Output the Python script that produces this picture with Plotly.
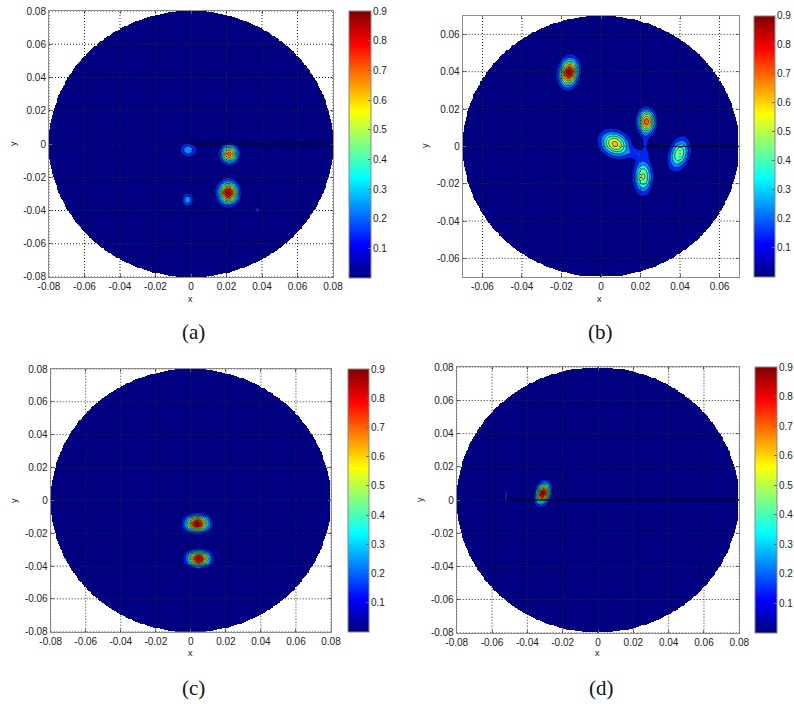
import numpy as np
import plotly.graph_objects as go

# ---------------- data ----------------
# Each panel: peaks of the intensity map (centre x, centre y, peak value, widths, tilt in degrees)
A_CX = [-0.0015, 0.0216, 0.0210, -0.0019, 0.0374]
A_CY = [-0.0036, -0.0060, -0.0293, -0.0335, -0.0397]
A_PEAK = [0.27, 0.75, 0.93, 0.26, 0.115]
A_SX = [0.0032, 0.0031, 0.0035, 0.0023, 0.0024]
A_SY = [0.0029, 0.0035, 0.0043, 0.0028, 0.0024]
A_ANG = [0, 0, 0, 0, 0]

B_CX = [-0.0162, 0.0231, 0.0071, 0.0214, 0.0396, 0.0190, 0.0225]
B_CY = [0.0395, 0.0132, 0.0013, -0.0162, -0.0041, -0.0040, 0.0020]
B_PEAK = [0.93, 0.76, 0.63, 0.52, 0.50, 0.14, 0.12]
B_SX = [0.0030, 0.0028, 0.0050, 0.0030, 0.0032, 0.0040, 0.0012]
B_SY = [0.0047, 0.0042, 0.0040, 0.0058, 0.0055, 0.0018, 0.0030]
B_ANG = [-8, 0, -35, 0, -15, 0, 0]

C_CX = [0.0037, 0.0045]
C_CY = [-0.0140, -0.0353]
C_PEAK = [0.93, 0.93]
C_SX = [0.0043, 0.0042]
C_SY = [0.0032, 0.0030]
C_ANG = [0, 0]

D_CX = [-0.0311, -0.0521]
D_CY = [0.0040, 0.0024]
D_PEAK = [0.94, 0.112]
D_SX = [0.0024, 0.0015]
D_SY = [0.0041, 0.0100]
D_ANG = [-15, 0]

RADIUS = [0.08, 0.07, 0.08, 0.08]
SEAM_START = [0.0, 0.022, None, -0.052]
CAPTIONS = ["(a)", "(b)", "(c)", "(d)"]

TICKS_8 = [-0.08, -0.06, -0.04, -0.02, 0, 0.02, 0.04, 0.06, 0.08]
TICKTEXT_8 = ["-0.08", "-0.06", "-0.04", "-0.02", "0", "0.02", "0.04", "0.06", "0.08"]
TICKS_6 = [-0.06, -0.04, -0.02, 0, 0.02, 0.04, 0.06]
TICKTEXT_6 = ["-0.06", "-0.04", "-0.02", "0", "0.02", "0.04", "0.06"]
CB_TICKS = [0.1, 0.2, 0.3, 0.4, 0.5, 0.6, 0.7, 0.8, 0.9]
CB_TEXT = ["0.1", "0.2", "0.3", "0.4", "0.5", "0.6", "0.7", "0.8", "0.9"]
CB_RANGE = [0.0, 0.9]
LEVELS = [0.1, 0.9, 0.1]  # start, end, step of contour levels

# ---------------- layout geometry (pixels in the 794x704 page) ----------------
OFF = 0                      # body margin removed by the post script below
W, H = 794 - OFF, 704 - OFF
AX_PX = [(49, 333, 11, 277), (462.7, 739.3, 15.7, 277), (50.7, 331, 369, 631.7), (456.7, 739.3, 367.3, 632.7)]
CB_PX = [(349, 22, 11, 278), (754, 21, 15.7, 277), (347.7, 21, 369, 632), (755, 21.5, 367, 633)]
XLAB_PX = [(190, 299), (599, 299), (190, 653), (597, 653)]
YLAB_PX = [(13, 144), (425, 146), (14, 501), (420, 500)]
CAP_PX = [(193, 332), (600, 332), (193, 688), (601, 688)]


def px(xp):
    return (xp - OFF) / W


def py(yp):
    return 1 - (yp - OFF) / H


def jet(t):
    t = min(max(t, 0.0), 1.0)
    r = min(max(1.5 - abs(4 * t - 3), 0), 1)
    g = min(max(1.5 - abs(4 * t - 2), 0), 1)
    b = min(max(1.5 - abs(4 * t - 1), 0), 1)
    return "rgb(%d,%d,%d)" % (round(r * 255), round(g * 255), round(b * 255))


# banded colorscale (filled contour look), bands of 0.1 over [0, 1]
BAND = []
for k in range(10):
    c = jet(0) if k == 0 else jet((k + 0.5) / 9.5)
    BAND.append([k / 10, c])
    BAND.append([(k + 1) / 10, c])

JET = [[s, jet(s)] for s in np.linspace(0, 1, 65)]


def field(X, Y, cx, cy, pk, sx, sy, ang):
    Z = np.zeros_like(X)
    for x0, y0, a, s1, s2, th in zip(cx, cy, pk, sx, sy, ang):
        t = np.deg2rad(th)
        dx, dy = X - x0, Y - y0
        u = dx * np.cos(t) + dy * np.sin(t)
        v = -dx * np.sin(t) + dy * np.cos(t)
        Z += a * np.exp(-0.5 * (u / s1) ** 2 - 0.5 * (v / s2) ** 2)
    return Z


PANELS = [
    (A_CX, A_CY, A_PEAK, A_SX, A_SY, A_ANG),
    (B_CX, B_CY, B_PEAK, B_SX, B_SY, B_ANG),
    (C_CX, C_CY, C_PEAK, C_SX, C_SY, C_ANG),
    (D_CX, D_CY, D_PEAK, D_SX, D_SY, D_ANG),
]

fig = go.Figure()
shapes = []
annotations = []
FONT = "Liberation Sans, Arial, sans-serif"
GRID_COL = "rgb(40,40,40)"

for i, (pars, R) in enumerate(zip(PANELS, RADIUS)):
    n = i + 1
    xa = "x" if n == 1 else "x%d" % n
    ya = "y" if n == 1 else "y%d" % n

    # fine grid for filled bands
    g = np.linspace(-R, R, 321)
    X, Y = np.meshgrid(g, g)
    Z = field(X, Y, *pars)
    Zm = np.where(X ** 2 + Y ** 2 <= R ** 2, Z, np.nan).astype(np.float32)
    fig.add_trace(go.Heatmap(x=g, y=g, z=Zm, colorscale=BAND, zmin=0, zmax=1.0,
                             showscale=False, zsmooth=False, hoverinfo="skip",
                             xaxis=xa, yaxis=ya))
    # contour lines
    g2 = np.linspace(-R, R, 241)
    X2, Y2 = np.meshgrid(g2, g2)
    Z2 = field(X2, Y2, *pars).astype(np.float32)
    fig.add_trace(go.Contour(x=g2, y=g2, z=Z2,
                             contours=dict(coloring="lines", start=LEVELS[0], end=LEVELS[1], size=LEVELS[2]),
                             colorscale=[[0, "black"], [1, "black"]], line=dict(width=0.6),
                             showscale=False, hoverinfo="skip", xaxis=xa, yaxis=ya))
    # continuous colorbar (invisible marker); its labels are placed as annotations
    cbx, cbw, cbt, cbb = CB_PX[i]
    fig.add_trace(go.Scatter(x=[0], y=[0], mode="markers", hoverinfo="skip", showlegend=False,
                             marker=dict(size=1, opacity=0, color=[0.45], colorscale=JET,
                                         cmin=CB_RANGE[0], cmax=CB_RANGE[1] + 1e-6,
                                         showscale=True,
                                         colorbar=dict(x=px(cbx), xanchor="left", xpad=0, ypad=0,
                                                       y=py((cbt + cbb) / 2), yanchor="middle",
                                                       len=cbb - cbt, lenmode="pixels", thickness=cbw,
                                                       thicknessmode="pixels",
                                                       tickvals=CB_TICKS, showticklabels=False,
                                                       ticks="inside", ticklen=3, tickcolor="#666",
                                                       outlinewidth=1, outlinecolor="#888")),
                             xaxis=xa, yaxis=ya))
    for v, txt in zip(CB_TICKS, CB_TEXT):
        frac = (v - CB_RANGE[0]) / (CB_RANGE[1] - CB_RANGE[0])
        annotations.append(dict(text=txt, x=px(cbx + cbw + 1.0), y=py(cbb - frac * (cbb - cbt)),
                                xref="paper", yref="paper", showarrow=False, xanchor="left", yanchor="middle",
                                borderpad=0, font=dict(family=FONT, size=10, color="#222")))

    x0p, x1p, y0p, y1p = AX_PX[i]
    ticks = TICKS_8 if R > 0.075 else TICKS_6
    ttext = TICKTEXT_8 if R > 0.075 else TICKTEXT_6
    rng = [-R * 1.00005, R * 1.00005]
    axcommon = dict(range=rng, tickvals=ticks, ticktext=ttext, ticks="inside", ticklen=3,
                    tickcolor="#777", showline=True, linecolor="#8c8c8c", linewidth=1, mirror="ticks",
                    showgrid=False, zeroline=False, tickfont=dict(family=FONT, size=10, color="#222"))
    fig.layout["xaxis" if n == 1 else "xaxis%d" % n] = dict(axcommon, domain=[px(x0p), px(x1p)], anchor=ya)
    fig.layout["yaxis" if n == 1 else "yaxis%d" % n] = dict(axcommon, domain=[py(y1p), py(y0p)], anchor=xa)

    # dotted grid drawn on top of the map
    for t in ticks:
        shapes.append(dict(type="line", xref=xa, yref=ya, x0=t, x1=t, y0=-R, y1=R, layer="above",
                           line=dict(color=GRID_COL, width=1, dash="1px,2px")))
        shapes.append(dict(type="line", xref=xa, yref=ya, x0=-R, x1=R, y0=t, y1=t, layer="above",
                           line=dict(color=GRID_COL, width=1, dash="1px,2px")))
    if SEAM_START[i] is not None:
        shapes.append(dict(type="line", xref=xa, yref=ya, x0=SEAM_START[i], x1=R, y0=0, y1=0, layer="above",
                           line=dict(color="black", width=1)))

    lx, ly = XLAB_PX[i]
    annotations.append(dict(text="x", x=px(lx), y=py(ly), xref="paper", yref="paper", showarrow=False,
                            xanchor="center", yanchor="middle", font=dict(family=FONT, size=9, color="#222")))
    lx, ly = YLAB_PX[i]
    annotations.append(dict(text="y", x=px(lx), y=py(ly), xref="paper", yref="paper", showarrow=False,
                            textangle=-90, xanchor="center", yanchor="middle",
                            font=dict(family=FONT, size=9, color="#222")))
    cx, cy = CAP_PX[i]
    annotations.append(dict(text=CAPTIONS[i], x=px(cx), y=py(cy), xref="paper", yref="paper",
                            showarrow=False, xanchor="center", yanchor="middle",
                            font=dict(family="Liberation Serif, DejaVu Serif, serif", size=21, color="#111")))

fig.update_layout(width=W, height=H, autosize=False,
                  margin=dict(l=0, r=0, t=0, b=0, autoexpand=False),
                  paper_bgcolor="white", plot_bgcolor="white", showlegend=False,
                  shapes=shapes, annotations=annotations)

fig.write_html("out.html", config={"displayModeBar": False},
               post_script="document.body.style.margin='0px';document.body.style.overflow='hidden';")
